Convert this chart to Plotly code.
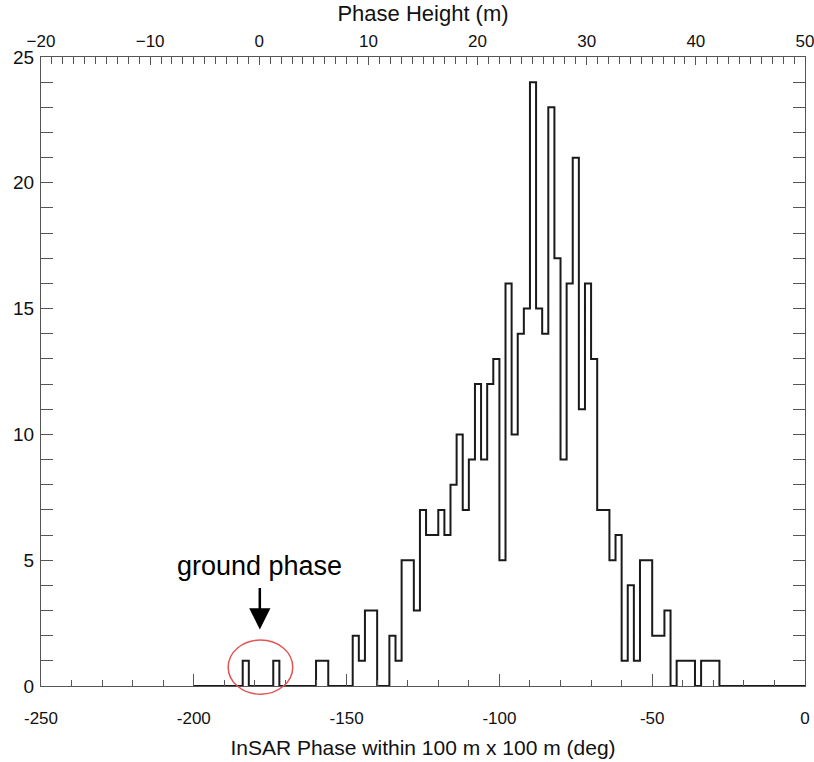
import numpy as np
import plotly.graph_objects as go

# ---- data ----
bin_start = -200          # deg, left edge of first bin
bin_width = 2             # deg
counts = [
    0, 0, 0, 0, 0, 0, 0, 0, 1, 0,
    0, 0, 0, 1, 0, 0, 0, 0, 0, 0,
    1, 1, 0, 0, 0, 0, 2, 1, 3, 3,
    0, 0, 2, 1, 5, 5, 3, 7, 6, 6,
    7, 6, 8, 10, 7, 9, 12, 9, 12, 13,
    5, 16, 10, 14, 15, 24, 15, 14, 23, 17,
    9, 16, 21, 11, 16, 13, 7, 7, 5, 6,
    1, 4, 1, 5, 5, 2, 2, 3, 0, 1,
    1, 1, 0, 1, 1, 1, 0, 0, 0, 0,
    0, 0, 0, 0, 0, 0, 0, 0, 0, 0,
]
x_ticks = [-250, -200, -150, -100, -50, 0]
x_tick_text = ["-250", "-200", "-150", "-100", "-50", "0"]
top_ticks = [-20, -10, 0, 10, 20, 30, 40, 50]
top_tick_text = ["\u221220", "\u221210", "0", "10", "20", "30", "40", "50"]
y_ticks = [0, 5, 10, 15, 20, 25]
top_range = [-20, 50]     # Phase Height (m)
bottom_range = [-250, 0]  # InSAR phase (deg)

edges = bin_start + bin_width * np.arange(len(counts) + 1)
ys = counts + [counts[-1]]

FONT = "Liberation Sans, Arial, Helvetica, sans-serif"
FRAME = "#555555"

fig = go.Figure()
fig.add_trace(go.Scatter(
    x=edges, y=ys, mode="lines", line_shape="hv",
    line=dict(color="#1a1a1a", width=2), cliponaxis=False,
    showlegend=False, hoverinfo="skip"))
# carrier trace so that the top (height) axis is drawn; it has no visible marks
fig.add_trace(go.Scatter(
    x=top_range, y=[None, None], xaxis="x2", mode="lines",
    showlegend=False, hoverinfo="skip"))

fig.update_layout(
    width=814, height=762,
    margin=dict(l=41, r=9, t=57, b=76, autoexpand=False),
    paper_bgcolor="white", plot_bgcolor="white",
    font=dict(family=FONT, size=17, color="#111111"),
    xaxis=dict(
        range=bottom_range, tickvals=x_ticks, ticktext=x_tick_text,
        ticks="inside", ticklen=12, tickcolor=FRAME, tickwidth=1,
        minor=dict(dtick=10, ticks="inside", ticklen=6, tickcolor=FRAME),
        showline=True, linecolor=FRAME, linewidth=1, mirror=False,
        showgrid=False, zeroline=False, ticklabelstandoff=17,
        ticklabeloverflow="allow",
        title=dict(text="InSAR Phase within 100 m x 100 m (deg)",
                   font=dict(size=21), standoff=12),
    ),
    xaxis2=dict(
        overlaying="x", side="top", range=top_range,
        tickvals=top_ticks, ticktext=top_tick_text,
        ticks="inside", ticklen=8, tickcolor=FRAME, tickwidth=1,
        minor=dict(dtick=1, ticks="inside", ticklen=7, tickcolor=FRAME),
        showline=True, linecolor=FRAME, linewidth=1,
        showgrid=False, zeroline=False, ticklabelstandoff=2,
        ticklabeloverflow="allow",
        title=dict(text="Phase Height (m)", font=dict(size=22), standoff=4),
    ),
    yaxis=dict(
        range=[0, 25], tickvals=y_ticks, tickfont=dict(size=19),
        ticks="inside", ticklen=12, tickcolor=FRAME, tickwidth=1,
        minor=dict(dtick=1, ticks="inside", ticklen=6, tickcolor=FRAME),
        showline=True, linecolor=FRAME, linewidth=1, mirror="allticks",
        showgrid=False, zeroline=False, ticklabelstandoff=2,
    ),
)

# ground-phase annotation
fig.add_annotation(
    x=-178.4, y=2.25, ax=-178.4, ay=3.95, xref="x", yref="y",
    axref="x", ayref="y", text="", showarrow=True,
    arrowhead=2, arrowsize=1.7, arrowwidth=2.5, arrowcolor="black")
fig.add_annotation(
    x=-178.4, y=4.75, xref="x", yref="y", text="ground phase",
    showarrow=False, font=dict(size=27, color="black"), yanchor="middle")
fig.add_shape(
    type="circle", xref="paper", yref="paper",
    x0=0.245, x1=0.3295, y0=-0.013, y1=0.073,
    line=dict(color="rgb(225,85,85)", width=1.5))

fig.write_html("out.html", config={"displayModeBar": False},
               post_script="document.body.style.margin='0';"
                           "document.body.style.overflow='hidden';")
